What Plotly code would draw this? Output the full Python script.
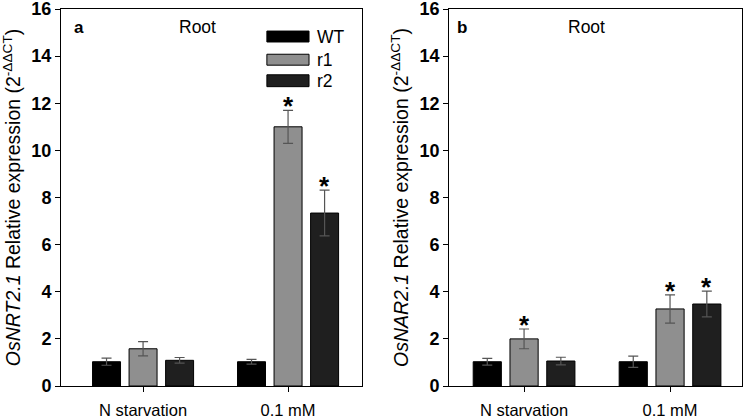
import plotly.graph_objects as go
import numpy as np

categories = ["N starvation", "0.1 mM"]
genotypes = ["WT", "r1", "r2"]

# Panel a: OsNRT2.1
nrt_mean = {"WT": [1.03, 1.03], "r1": [1.58, 11.0], "r2": [1.09, 7.34]}
nrt_err = {"WT": [0.15, 0.10], "r1": [0.30, 0.70], "r2": [0.12, 0.97]}
nrt_sig = {"WT": [False, False], "r1": [False, True], "r2": [False, True]}

# Panel b: OsNAR2.1
nar_mean = {"WT": [1.03, 1.03], "r1": [2.0, 3.27], "r2": [1.06, 3.48]}
nar_err = {"WT": [0.14, 0.24], "r1": [0.42, 0.60], "r2": [0.16, 0.55]}
nar_sig = {"WT": [False, False], "r1": [True, True], "r2": [False, True]}

y_ticks = list(range(0, 17, 2))

colors = {"WT": "#000000", "r1": "#8f8f8f", "r2": "#1f1f1f"}
offsets = {"WT": -0.252, "r1": 0.0, "r2": 0.252}
FONT = "Arial, Liberation Sans, sans-serif"

fig = go.Figure()
annotations = []

panels = [
    ("x", "y", nrt_mean, nrt_err, nrt_sig),
    ("x2", "y2", nar_mean, nar_err, nar_sig),
]
for xa, ya, means, errs, sigs in panels:
    for g in genotypes:
        xs = np.arange(len(categories)) + offsets[g]
        fig.add_trace(go.Bar(
            x=xs, y=means[g], width=0.193,
            marker=dict(color=colors[g], line=dict(color="#000000", width=1)),
            error_y=dict(type="data", array=errs[g], color="#555555",
                         thickness=1.2, width=5),
            xaxis=xa, yaxis=ya, showlegend=False, name=g,
        ))
        for i, s in enumerate(sigs[g]):
            if s:
                annotations.append(dict(
                    x=xs[i], y=means[g][i] + errs[g][i], xref=xa, yref=ya,
                    text="<b>*</b>", showarrow=False, yanchor="bottom",
                    yshift=-13, font=dict(size=26, color="#000000", family=FONT)))

# panel labels
for xd, lab, rootx, labx in [("x domain", "a", 0.452, 0.036), ("x2 domain", "b", 0.468, 0.022)]:
    yd = "y domain" if xd == "x domain" else "y2 domain"
    annotations.append(dict(x=labx, y=0.952, xref=xd, yref=yd,
                            text="<b>" + lab + "</b>", showarrow=False,
                            xanchor="left", yanchor="middle",
                            font=dict(size=17, color="#000", family=FONT)))
    annotations.append(dict(x=rootx, y=0.952, xref=xd, yref=yd, text="Root",
                            showarrow=False, xanchor="center", yanchor="middle",
                            font=dict(size=17.5, color="#000", family=FONT)))

# custom legend in panel a
shapes = []
leg_y = [(0.9125, 0.9415), (0.8510, 0.8800), (0.7940, 0.8255)]
for g, (y0, y1) in zip(genotypes, leg_y):
    shapes.append(dict(type="rect", xref="x domain", yref="y domain",
                       x0=0.684, x1=0.824, y0=y0, y1=y1,
                       fillcolor=colors[g], line=dict(color="#000", width=1)))
    annotations.append(dict(x=0.845, y=(y0 + y1) / 2, xref="x domain", yref="y domain",
                            text=g, showarrow=False, xanchor="left", yanchor="middle",
                            font=dict(size=17.5, color="#000", family=FONT)))

yaxis_common = dict(range=[0, 16], tickvals=y_ticks, ticks="outside", ticklen=5,
                    tickcolor="#000", showline=True, linecolor="#000", linewidth=1,
                    mirror=True, showgrid=False, zeroline=False, automargin=False,
                    ticklabeloverflow="allow",
                    tickfont=dict(size=18, color="#000", family=FONT, weight="bold"),
                    title_font=dict(size=19.5, color="#000", family=FONT),
                    title_standoff=5)
xaxis_common = dict(tickvals=list(range(len(categories))), ticktext=categories,
                    ticks="outside", ticklen=5, tickcolor="#000", showline=True,
                    linecolor="#000", linewidth=1, mirror=True, showgrid=False,
                    zeroline=False, automargin=False, ticklabeloverflow="allow",
                    ticklabelstandoff=4,
                    tickfont=dict(size=16.5, color="#000", family=FONT))

fig.update_layout(
    width=746, height=420,
    margin=dict(l=61, r=4, t=9, b=34),
    paper_bgcolor="white", plot_bgcolor="white",
    font=dict(family=FONT, color="#000"),
    xaxis=dict(domain=[0, 0.442], range=[-0.566, 1.51], **xaxis_common),
    xaxis2=dict(domain=[0.5698, 1.0], range=[-0.514, 1.493], anchor="y2", **xaxis_common),
    yaxis=dict(title_text="<i>OsNRT2.1</i> Relative expression (2<sup>-ΔΔCT</sup>)",
               anchor="x", **yaxis_common),
    yaxis2=dict(title_text="<i>OsNAR2.1</i> Relative expression (2<sup>-ΔΔCT</sup>)",
                anchor="x2", **yaxis_common),
    annotations=annotations, shapes=shapes, showlegend=False,
)

fig.write_html("out.html", config={"displayModeBar": False},
               post_script="document.body.style.margin='0';document.body.style.overflow='hidden';")
